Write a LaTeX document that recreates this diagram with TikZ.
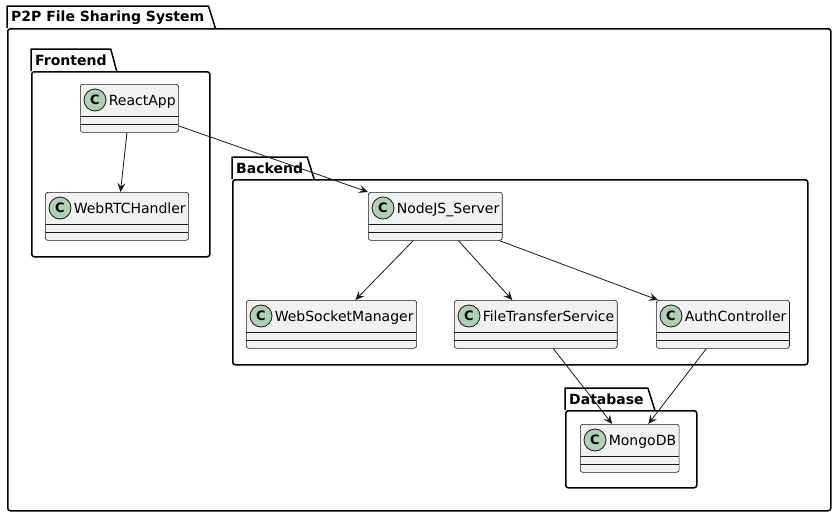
\documentclass[tikz,border=0pt]{standalone}
\usepackage{fontspec}
\setmainfont{DejaVu Sans}
\usetikzlibrary{positioning,arrows.meta}
\definecolor{classfill}{HTML}{F1F1F1}
\definecolor{classline}{HTML}{181818}
\definecolor{iconfill}{HTML}{ADD1B2}

\begin{document}
\begin{tikzpicture}[x=1pt, y=-1pt,
    umlclass/.style={rectangle, draw=classline, fill=classfill, line width=0.6pt, rounded corners=2.5pt,
        inner xsep=3pt, inner ysep=0pt, anchor=north west, font=\fontsize{14}{16}\selectfont,
        path picture={
            \draw[classline, line width=0.6pt] ([yshift=-32pt]path picture bounding box.north west) -- ([yshift=-32pt]path picture bounding box.north east);
            \draw[classline, line width=0.6pt] ([yshift=-40pt]path picture bounding box.north west) -- ([yshift=-40pt]path picture bounding box.north east);
        }},
    classicon/.style={circle, draw=classline, fill=iconfill, line width=0.8pt, minimum size=22pt,
        inner sep=0pt, font=\bfseries\fontsize{13}{13}\selectfont},
    pkgbody/.style={rectangle, draw=black, line width=1.5pt, rounded corners=2.5pt, anchor=north west, inner sep=0pt},
    pkgtitle/.style={anchor=north west, inner xsep=4pt, inner ysep=0pt, minimum height=22pt,
        font=\bfseries\fontsize{14}{16}\selectfont},
    pkgtab/.style={draw=black, line width=1.5pt, line join=round},
    arrow/.style={-{Stealth[length=9pt, width=8pt, inset=3.5pt]}, draw=classline, line width=0.8pt},
]
\path[use as bounding box, fill=white] (0,0) rectangle (836,517);

% === PACKAGES: body + tab with title ===
\node[pkgbody, minimum width=823pt, minimum height=482pt] (sysbody) at (7,28) {};
\node[pkgtitle] (systitle) at (7,6) {P2P File Sharing System};
\draw[pkgtab] (sysbody.north west) -- (systitle.north west) -- (systitle.north east) -- ([xshift=7pt]systitle.south east);

\node[pkgbody, minimum width=178pt, minimum height=185pt] (frontbody) at (31,71) {};
\node[pkgtitle] (fronttitle) at (31,49) {Frontend};
\draw[pkgtab] (frontbody.north west) -- (fronttitle.north west) -- (fronttitle.north east) -- ([xshift=6pt]fronttitle.south east);

\node[pkgbody, minimum width=575pt, minimum height=185pt] (backbody) at (232,179) {};
\node[pkgtitle] (backtitle) at (232,157) {Backend};
\draw[pkgtab] (backbody.north west) -- (backtitle.north west) -- (backtitle.north east) -- ([xshift=7pt]backtitle.south east);

\node[pkgbody, minimum width=131pt, minimum height=77pt] (dbbody) at (565,410) {};
\node[pkgtitle] (dbtitle) at (565,388) {Database};
\draw[pkgtab] (dbbody.north west) -- (dbtitle.north west) -- (dbtitle.north east) -- ([xshift=7pt]dbtitle.south east);

% === CLASSES ===
\foreach \id/\name/\x/\y in {react/ReactApp/80/84, webrtc/WebRTCHandler/45/192,
    nodejs/NodeJS\_Server/368/192, wsm/WebSocketManager/246/300,
    fts/FileTransferService/454/300, auth/AuthController/656/300, mongo/MongoDB/580/424}
{
    \node[umlclass] (\id) at (\x,\y) {\hspace*{25.5pt}\name\rule[-27pt]{0pt}{48pt}};
    \node[classicon] (\id-icon) at ([xshift=15pt, yshift=-16pt]\id.north west) {C};
}

% === DEPENDENCIES ===
\draw[arrow] ([yshift=-42pt]react.north east) -- (nodejs.north west);
\draw[arrow] ([xshift=-2.5pt]react.south) -- ([xshift=3.5pt]webrtc.north);
\draw[arrow] ([xshift=-22pt]nodejs.south) -- ([xshift=24pt]wsm.north);
\draw[arrow] ([xshift=23pt]nodejs.south) -- ([xshift=-23.5pt]fts.north);
\draw[arrow] ([xshift=64pt]nodejs.south) -- ([xshift=2pt]auth.north west);
\draw[arrow] ([xshift=17.5pt]fts.south) -- ([xshift=-17.5pt]mongo.north);
\draw[arrow] ([xshift=-16.5pt]auth.south) -- ([xshift=18.5pt]mongo.north);

\end{tikzpicture}
\end{document}
